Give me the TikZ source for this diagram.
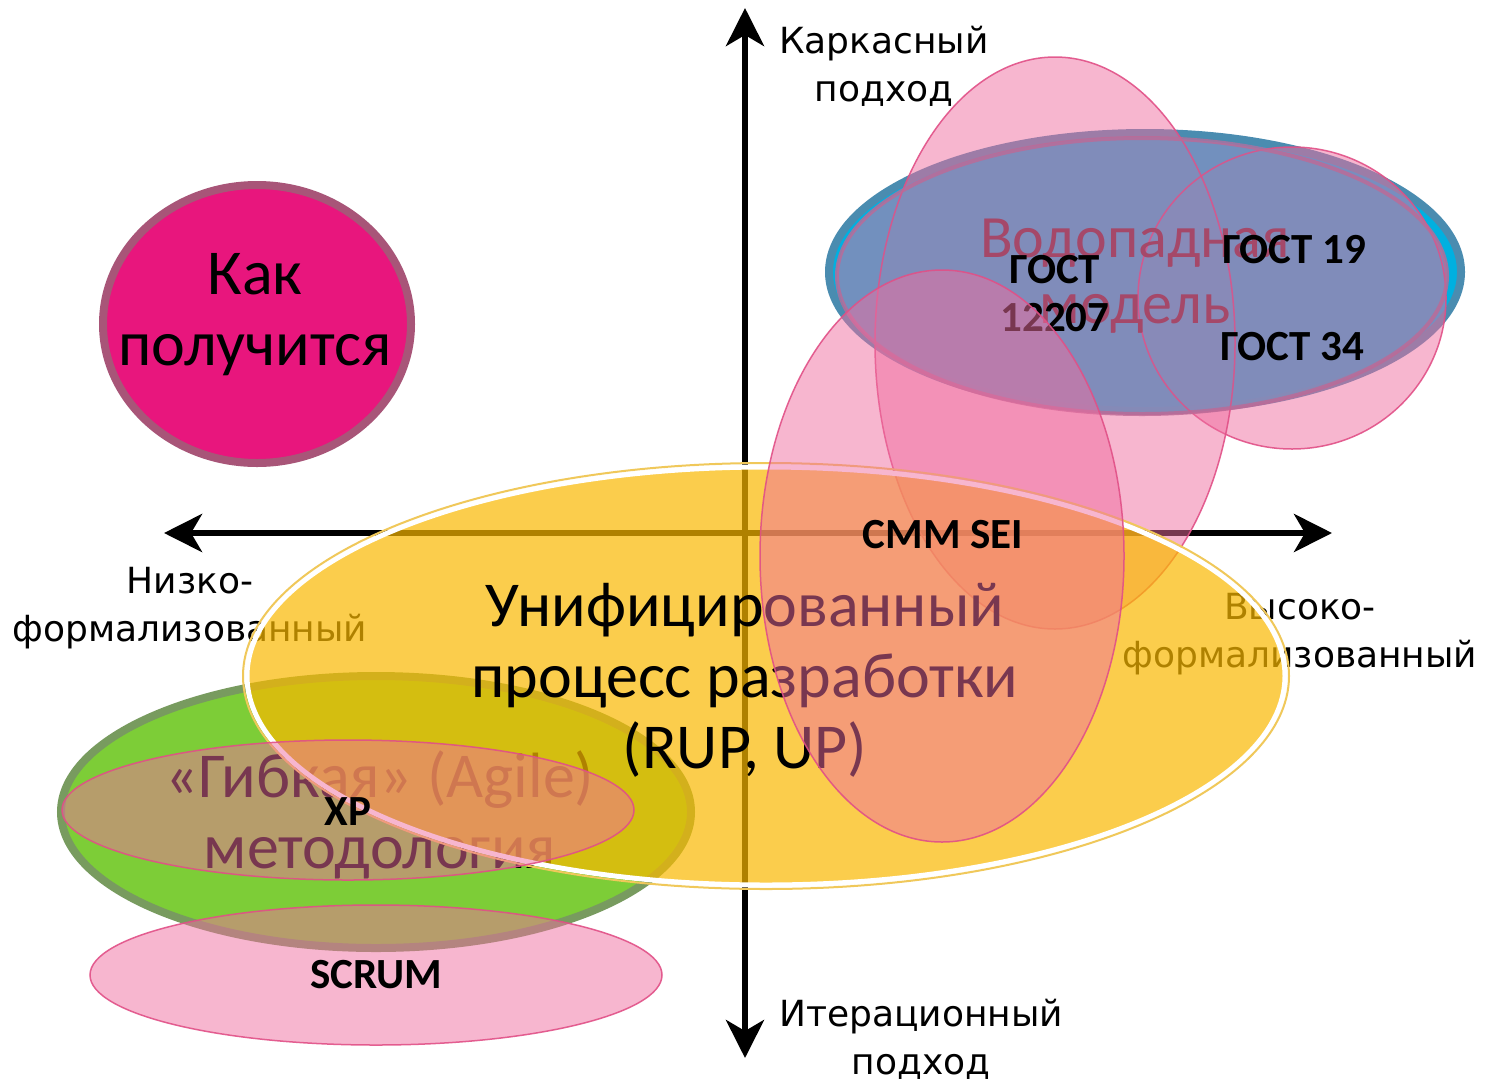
\documentclass[tikz,border=0pt]{standalone}
\usepackage{fontspec}
\setmainfont{Carlito}
\newfontfamily\axisfont{DejaVu Sans}
\usetikzlibrary{arrows.meta}
\definecolor{magc}{RGB}{232,22,125}
\definecolor{magl}{RGB}{168,85,120}
\definecolor{cyanc}{RGB}{0,176,224}
\definecolor{cyanl}{RGB}{74,140,176}
\definecolor{greenc}{RGB}{125,205,55}
\definecolor{greenl}{RGB}{120,155,95}
\definecolor{yelc}{RGB}{250,185,0}
\definecolor{yell}{RGB}{240,200,90}
\definecolor{pinkc}{RGB}{240,110,160}
\definecolor{pinkl}{RGB}{225,80,135}
\definecolor{mauvel}{RGB}{190,105,150}
\definecolor{wfill}{RGB}{130,140,186}
\definecolor{wtext}{RGB}{165,72,105}
\tikzset{
  axisline/.style={line width=6pt, black, {Stealth[length=38pt,width=38pt,inset=11pt]}-{Stealth[length=38pt,width=38pt,inset=11pt]}},
  axislabel/.style={font=\axisfont\fontsize{36}{48}\selectfont, align=center, inner sep=0pt},
  bigtext/.style={font=\fontsize{64}{71}\selectfont, align=center, inner sep=0pt},
  boldtext/.style={font=\bfseries\fontsize{43}{48}\selectfont, align=center, inner sep=0pt},
  pinkshape/.style={fill=pinkc, fill opacity=0.5, draw=pinkl, line width=1.5pt, draw opacity=0.9},
  pinkedge/.style={draw=pinkl, line width=1.5pt, draw opacity=0.8},
}
\begin{document}
\begin{tikzpicture}[x=1pt,y=-1pt]
\useasboundingbox (0,0) rectangle (1487,1082);
\fill[white] (0,0) rectangle (1487,1082);

% axes
\coordinate (top) at (745,8);
\coordinate (bot) at (745,1058);
\coordinate (left) at (164,533);
\coordinate (right) at (1332,533);
\draw[axisline] (bot) -- (top);
\draw[axisline] (left) -- (right);

\node[axislabel] (ltop) at (884,66) {Каркасный\\подход};
\node[axislabel] (lleft) at (190,608) {Низко-\\формализованный};
\node[axislabel] (lright) at (1300,634) {Высоко-\\формализованный};
\node[axislabel] (lbot) at (921,1039) {Итерационный\\подход};

% Как получится
\draw[fill=magc, draw=magl, line width=8pt] (257,324) ellipse [x radius=154, y radius=139];
\node[bigtext] (kak) at (255,315) {Как\\получится};

% Waterfall (cyan base)
\draw[fill=cyanc, draw=cyanl, line width=8pt] (1145,272) ellipse [x radius=316, y radius=139];

% GOST 19 / 34 and GOST 12207 ellipses
\draw[pinkshape] (1292,298) ellipse [x radius=154, y radius=151];
\draw[pinkshape] (1055,343) ellipse [x radius=180, y radius=286];

% Waterfall overlay
\fill[wfill, opacity=0.88] (1142,276) ellipse [x radius=305, y radius=138];
\begin{scope}
  \clip (1142,276) ellipse [x radius=305, y radius=138];
  \draw[pinkedge] (1292,298) ellipse [x radius=154, y radius=151];
  \draw[pinkedge] (1055,343) ellipse [x radius=180, y radius=286];
\end{scope}
\draw[mauvel, line width=4pt, opacity=0.8] (1142,276) ellipse [x radius=305, y radius=138];
\node[bigtext, text=wtext, font=\fontsize{60}{66}\selectfont] (water) at (1135,276) {Водопадная\\модель};

\node[boldtext] (g19) at (1294,250) {ГОСТ 19};
\node[boldtext] (g34) at (1292,347) {ГОСТ 34};
\node[boldtext] (g12207) at (1055,294) {ГОСТ\\12207};

% Agile
\draw[fill=greenc, draw=greenl, line width=8pt] (376,812) ellipse [x radius=315, y radius=136];
\node[bigtext] (agile) at (380,815) {«Гибкая» (Agile)\\методология};

% RUP
\fill[yelc, opacity=0.7] (766,676) ellipse [x radius=521, y radius=211];
\draw[white, line width=5pt] (766,676) ellipse [x radius=519, y radius=209];
\draw[yell, line width=2pt] (766,676) ellipse [x radius=523, y radius=213];
\node[bigtext] (rup) at (745,680) {Унифицированный\\процесс разработки\\(RUP, UP)};

% CMM SEI
\draw[pinkshape] (942,556) ellipse [x radius=182, y radius=286];
\node[boldtext] (cmm) at (943,535) {CMM SEI};

% XP
\draw[pinkshape] (348,810) ellipse [x radius=286, y radius=70];
\node[boldtext] (xp) at (348,812) {XP};

% SCRUM
\draw[pinkshape] (376,975) ellipse [x radius=286, y radius=70];
\node[boldtext] (scrum) at (376,975) {SCRUM};
\end{tikzpicture}
\end{document}
